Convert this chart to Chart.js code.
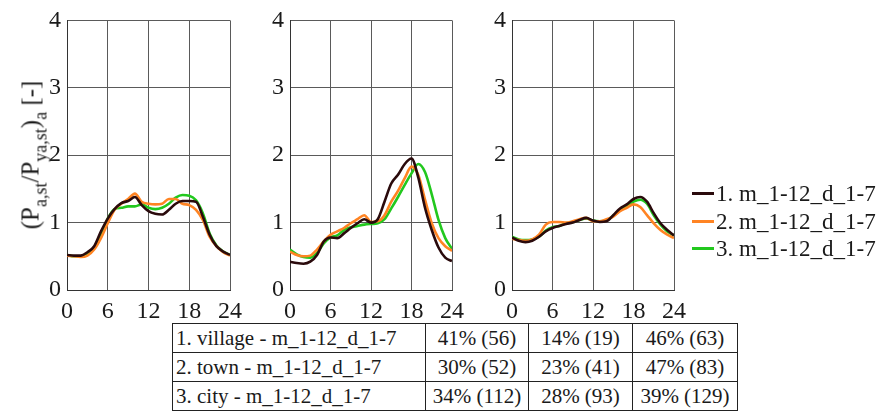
<!DOCTYPE html>
<html>
<head>
<meta charset="utf-8">
<script src="https://cdn.jsdelivr.net/npm/chart.js@4.4.1/dist/chart.umd.min.js"></script>
<style>
  html, body { margin: 0; padding: 0; background: #fff; }
  body { width: 882px; height: 417px; position: relative; overflow: hidden; font-family: 'Liberation Serif', 'Times New Roman', serif; color: #1a1a1a; }
  canvas { position: absolute; top: 0; }
  #ytitle { position: absolute; left: 30px; top: 155px; transform: translate(-50%, -50%) rotate(-90deg); font-size: 25px; white-space: nowrap; line-height: 1; }
  #ytitle sub { font-size: 18px; vertical-align: -0.45em; line-height: 0; }
  #legend { position: absolute; left: 692px; top: 180px; font-size: 23px; line-height: 27.5px; }
  #legend .row { display: flex; align-items: center; white-space: nowrap; }
  #legend .sw { display: inline-block; width: 22px; height: 3px; margin-right: 2px; }
  #tbl { position: absolute; left: 172px; top: 323px; border-collapse: collapse; font-size: 21px; }
  #tbl td { border: 1.5px solid #222; height: 28px; padding: 0 3px; white-space: nowrap; line-height: 1; }
  #tbl td.num { text-align: center; }
</style>
</head>
<body>
<canvas id="c1"></canvas>
<canvas id="c2"></canvas>
<canvas id="c3"></canvas>
<div id="ytitle">(P<sub>a,st</sub>/P<sub>ya,st</sub>)<sub>a</sub> [-]</div>
<div id="legend"></div>
<table id="tbl"></table>
<script>
// hour of day
const hours = [0,1,2,3,4,5,6,7,8,9,10,11,12,13,14,15,16,17,18,19,20,21,22,23,24];

// axis ticks
const xTicks = [0, 6, 12, 18, 24];
const yTicks = [0, 1, 2, 3, 4];

// legend entries
const seriesLabels = ['1. m_1-12_d_1-7', '2. m_1-12_d_1-7', '3. m_1-12_d_1-7'];
const seriesColors = ['#2a0a0c', '#ff8423', '#22c81e'];

// profile group 1
const g1Village = [0.52,0.51,0.51,0.56,0.65,0.87,1.06,1.20,1.29,1.32,1.38,1.26,1.17,1.13,1.12,1.19,1.28,1.32,1.32,1.31,1.09,0.82,0.65,0.57,0.52];
const g1Town    = [0.51,0.50,0.49,0.51,0.60,0.77,0.99,1.19,1.28,1.35,1.43,1.31,1.28,1.27,1.28,1.35,1.35,1.28,1.26,1.19,1.04,0.79,0.65,0.56,0.51];
const g1City    = [0.52,0.50,0.50,0.53,0.62,0.82,1.06,1.20,1.22,1.24,1.24,1.27,1.22,1.20,1.22,1.28,1.37,1.41,1.40,1.33,1.14,0.84,0.66,0.57,0.52];

// profile group 2
const g2Village = [0.42,0.40,0.39,0.42,0.52,0.72,0.78,0.77,0.84,0.92,0.99,1.05,1.00,1.05,1.31,1.58,1.71,1.87,1.95,1.67,1.22,0.89,0.63,0.48,0.43];
const g2Town    = [0.57,0.52,0.50,0.51,0.60,0.72,0.82,0.87,0.92,0.99,1.05,1.11,1.01,1.02,1.11,1.31,1.47,1.66,1.83,1.71,1.34,0.99,0.77,0.65,0.58];
const g2City    = [0.60,0.53,0.49,0.48,0.55,0.69,0.78,0.81,0.89,0.93,0.95,0.97,0.98,0.99,1.05,1.21,1.38,1.56,1.73,1.87,1.75,1.42,1.04,0.77,0.61];

// profile group 3
const g3Village = [0.78,0.73,0.71,0.73,0.79,0.87,0.92,0.95,0.98,1.00,1.04,1.07,1.03,1.01,1.02,1.11,1.21,1.27,1.35,1.38,1.31,1.14,0.99,0.89,0.81];
const g3Town    = [0.76,0.74,0.73,0.75,0.82,0.97,1.01,1.01,1.00,1.02,1.05,1.07,1.02,1.02,1.05,1.09,1.17,1.22,1.27,1.23,1.11,0.99,0.89,0.82,0.77];
const g3City    = [0.79,0.75,0.74,0.75,0.79,0.88,0.93,0.95,0.99,1.01,1.04,1.06,1.03,1.02,1.03,1.10,1.19,1.24,1.31,1.34,1.28,1.11,0.97,0.87,0.81];

// share table
const tableRowLabels = ['1. village - m_1-12_d_1-7', '2. town - m_1-12_d_1-7', '3. city - m_1-12_d_1-7'];
const tableShares = [[41, 14, 46], [30, 23, 47], [34, 28, 39]];
const tableCounts = [[56, 19, 63], [52, 41, 83], [112, 93, 129]];

const FONT = "'Liberation Serif', 'Times New Roman', serif";
const Y_AXIS_W = 40;
const X_AXIS_H = 32;
const PAD_TOP = 17;
const PAD_RIGHT = 16;

function toPoints(values) {
  return values.map((v, i) => ({ x: hours[i], y: v }));
}

function makePanel(id, plotLeft, plotWidth, series) {
  const canvas = document.getElementById(id);
  const w = Y_AXIS_W + plotWidth + PAD_RIGHT;
  const h = PAD_TOP + 273 + X_AXIS_H;
  canvas.width = w; canvas.height = h;
  canvas.style.width = w + 'px'; canvas.style.height = h + 'px';
  canvas.style.left = (plotLeft - Y_AXIS_W) + 'px';
  return new Chart(canvas, {
    type: 'line',
    data: {
      datasets: series.map((vals, i) => ({
        label: seriesLabels[i],
        data: toPoints(vals),
        borderColor: seriesColors[i],
        backgroundColor: seriesColors[i],
        borderWidth: 2.6,
        pointRadius: 0,
        tension: 0.4,
        cubicInterpolationMode: 'monotone',
        fill: false
      }))
    },
    options: {
      responsive: false,
      animation: false,
      devicePixelRatio: 1,
      layout: { padding: { top: PAD_TOP, right: PAD_RIGHT, left: 0, bottom: 0 } },
      plugins: { legend: { display: false }, tooltip: { enabled: false } },
      scales: {
        x: {
          type: 'linear', min: 0, max: 24,
          afterBuildTicks: s => { s.ticks = xTicks.map(v => ({ value: v })); },
          afterFit: s => { s.height = X_AXIS_H; },
          ticks: { color: '#1a1a1a', font: { family: FONT, size: 24 }, padding: 7, maxRotation: 0 },
          grid: { color: '#5a5a5a', lineWidth: 1, drawTicks: false },
          border: { color: '#333', width: 1 }
        },
        y: {
          min: 0, max: 4,
          afterBuildTicks: s => { s.ticks = yTicks.map(v => ({ value: v })); },
          afterFit: s => { s.width = Y_AXIS_W; },
          ticks: { color: '#1a1a1a', font: { family: FONT, size: 24 }, padding: 6 },
          grid: { color: '#5a5a5a', lineWidth: 1, drawTicks: false },
          border: { color: '#333', width: 1 }
        }
      }
    }
  });
}

makePanel('c1', 67, 166, [g1Village, g1Town, g1City]);
makePanel('c2', 290, 165, [g2Village, g2Town, g2City]);
makePanel('c3', 512, 165, [g3Village, g3Town, g3City]);

// legend
const legend = document.getElementById('legend');
seriesLabels.forEach((lab, i) => {
  const row = document.createElement('div');
  row.className = 'row';
  const sw = document.createElement('span');
  sw.className = 'sw';
  sw.style.background = seriesColors[i];
  const tx = document.createElement('span');
  tx.textContent = lab;
  row.appendChild(sw); row.appendChild(tx);
  legend.appendChild(row);
});

// table
const tbl = document.getElementById('tbl');
const colW = [253, 103, 104, 105];
tableRowLabels.forEach((lab, r) => {
  const tr = document.createElement('tr');
  const td0 = document.createElement('td');
  td0.textContent = lab;
  td0.style.width = (colW[0] - 7) + 'px';
  tr.appendChild(td0);
  tableShares[r].forEach((s, c) => {
    const td = document.createElement('td');
    td.className = 'num';
    td.textContent = s + '% (' + tableCounts[r][c] + ')';
    td.style.width = (colW[c + 1] - 7) + 'px';
    tr.appendChild(td);
  });
  tbl.appendChild(tr);
});
</script>
</body>
</html>
